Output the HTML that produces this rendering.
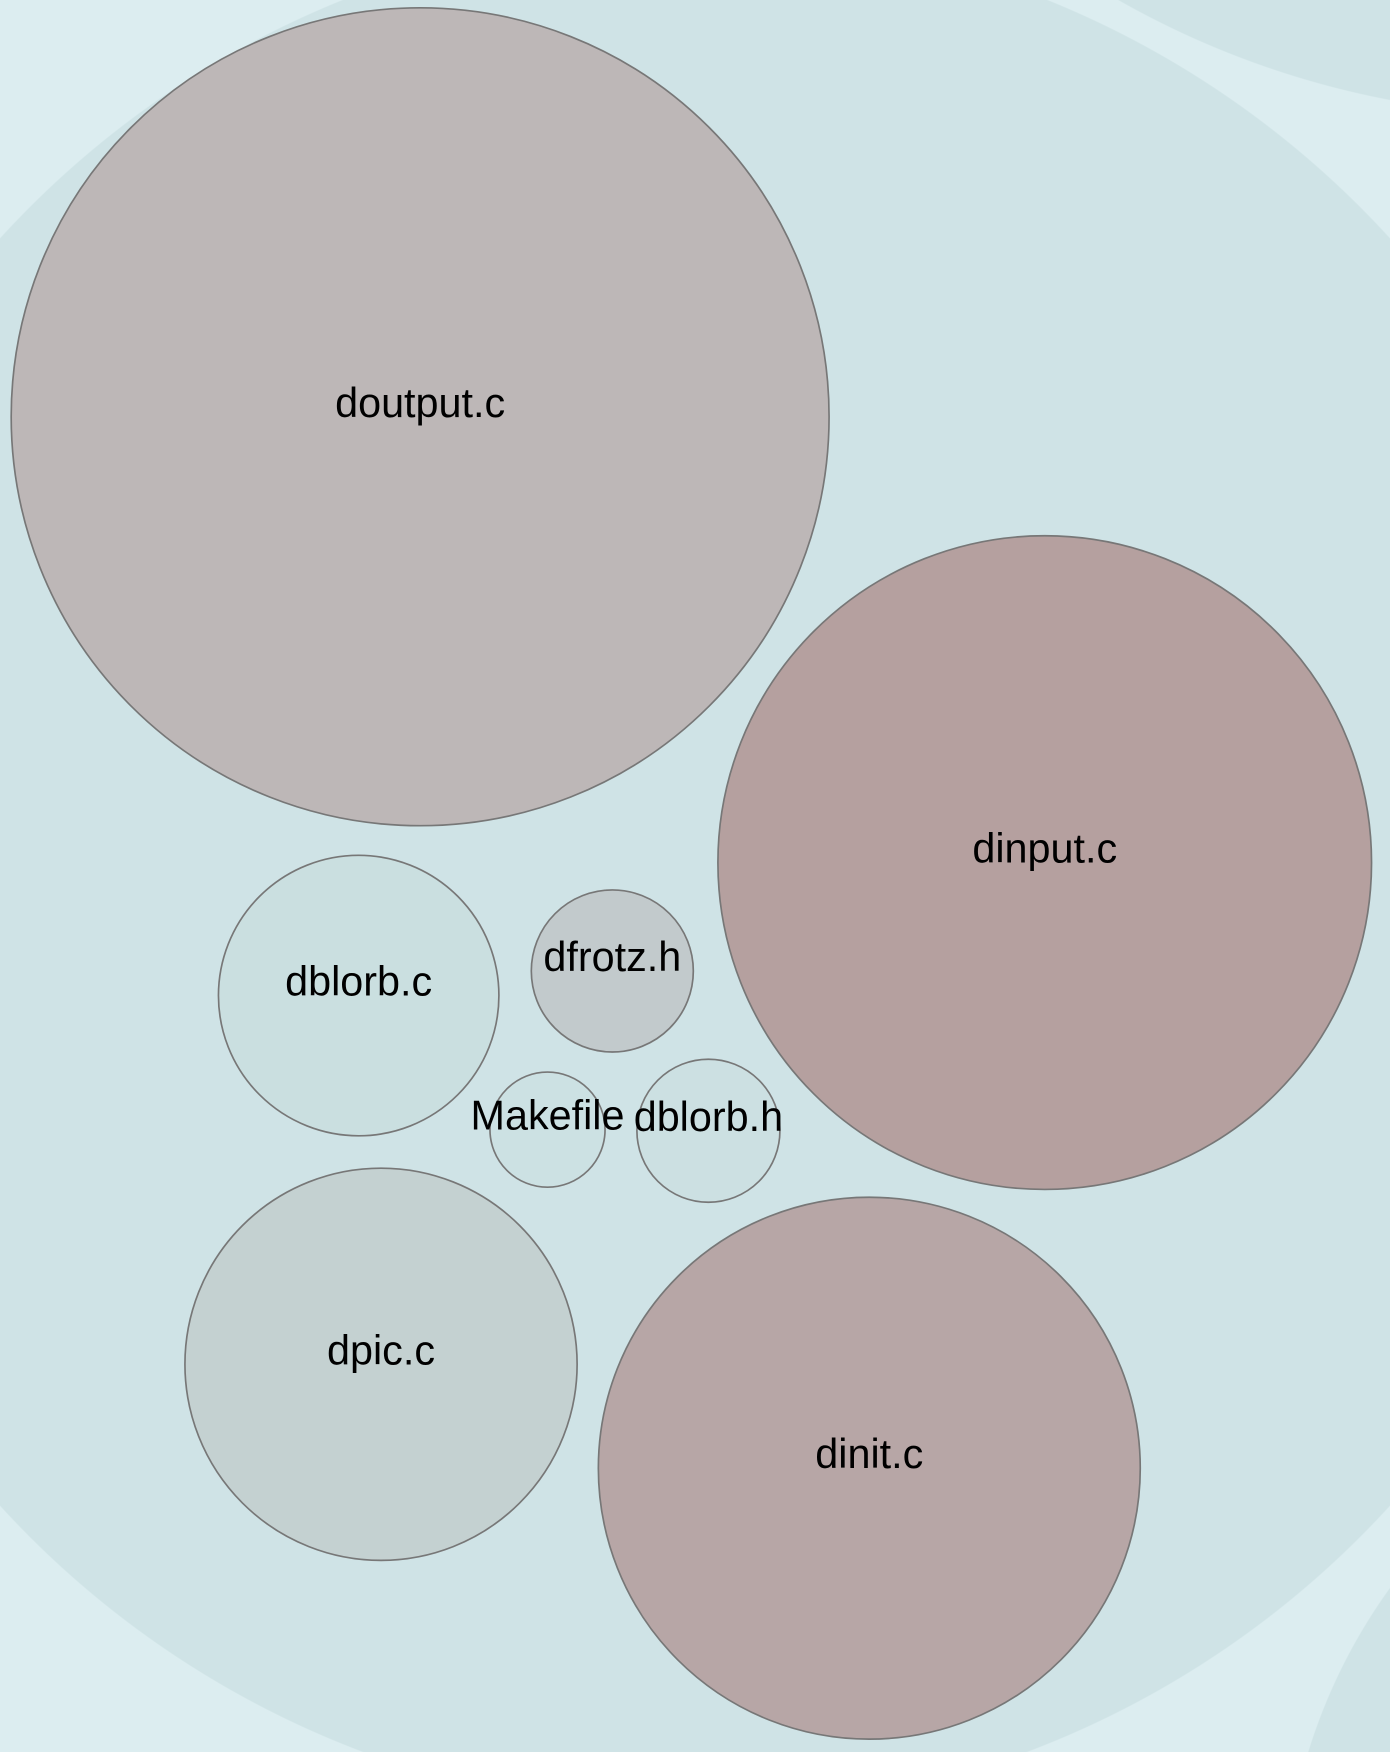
<!DOCTYPE html>
<html><head><meta charset="utf-8">
<style>
html,body{margin:0;padding:0;width:1390px;height:1752px;overflow:hidden;}
body{
  background:
    radial-gradient(circle 941px at 695px 872px, #cfe3e6 940px, rgba(207,227,230,0) 941px),
    radial-gradient(circle 884px at 1555px -768px, #cfe3e6 883px, rgba(207,227,230,0) 884px),
    radial-gradient(circle 562px at 1845px 1917px, #cfe3e6 561px, rgba(207,227,230,0) 562px),
    #dcedf0;
}
svg{display:block;}
text{font-family:"Liberation Sans",Arial,sans-serif;font-size:37px;fill:#000;text-anchor:middle;}
</style></head>
<body>
<svg id="chart" width="1390" height="1752" viewBox="0 0 1244 1568" xmlns="http://www.w3.org/2000/svg">
  <g id="nodes"></g>
</svg>
<script>
const names = ["doutput.c","dinput.c","dinit.c","dpic.c","dblorb.c","dfrotz.h","dblorb.h","Makefile"];
const radii = [366, 292.5, 242.5, 175.5, 125.5, 72.5, 64, 51.5];
const centersX = [376, 935, 778, 341, 321, 548, 634, 490];
const centersY = [373, 772, 1314, 1221, 891, 869, 1012, 1011];
const fills = ["#bdb7b7","#b5a09f","#b7a6a6","#c4d1d1","#cadfe0","#c2cacc","#cce0e2","#cce1e3"];

const ns = "http://www.w3.org/2000/svg";
const g = document.getElementById("nodes");
names.forEach((n, i) => {
  const c = document.createElementNS(ns, "circle");
  c.setAttribute("cx", centersX[i]);
  c.setAttribute("cy", centersY[i]);
  c.setAttribute("r", radii[i]);
  c.setAttribute("fill", fills[i]);
  c.setAttribute("stroke", "#777");
  c.setAttribute("stroke-width", "1.5");
  
  
  g.appendChild(c);
});
names.forEach((n, i) => {
  const t = document.createElementNS(ns, "text");
  t.setAttribute("x", centersX[i]);
  t.setAttribute("y", centersY[i]);
  t.textContent = n;
  
  
  g.appendChild(t);
});
</script>
</body></html>
